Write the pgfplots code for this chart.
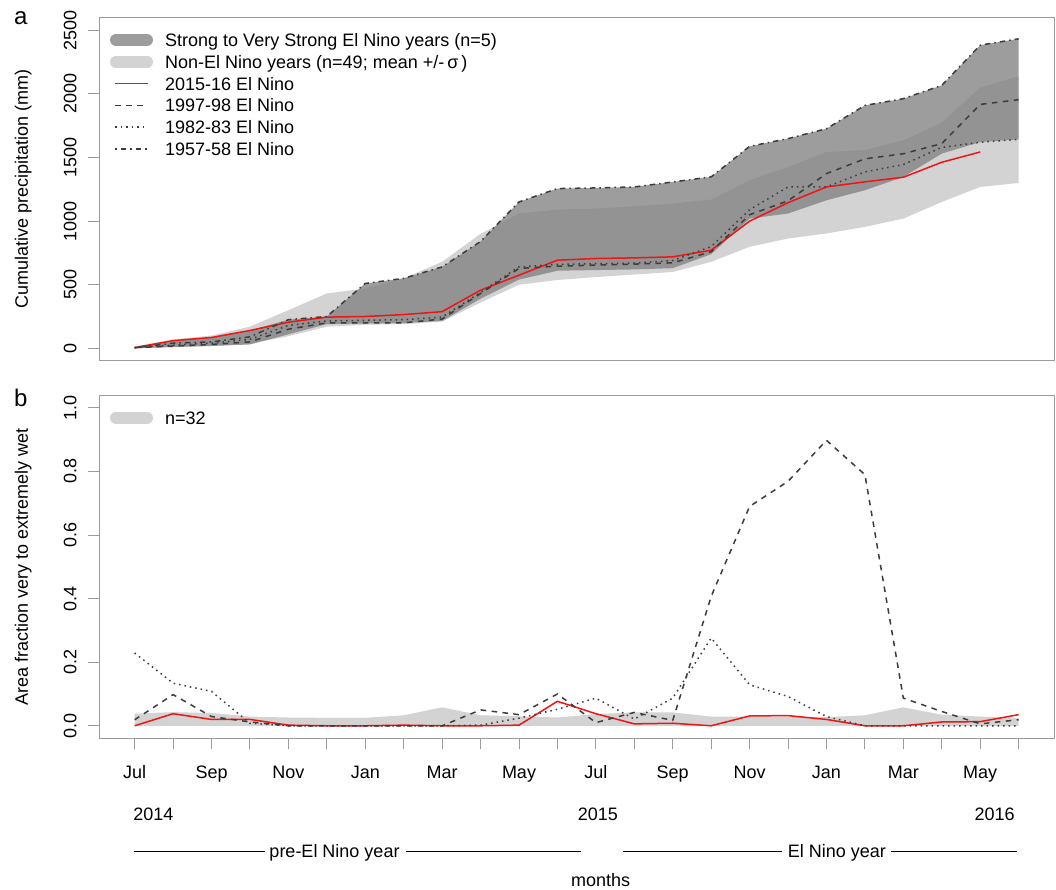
\documentclass[border=0pt]{standalone}
\usepackage{fontspec}
\setmainfont{Liberation Sans}
\usepackage{pgfplots}
\usepackage{pgfplotstable}
\pgfplotsset{compat=1.18}
\usepgfplotslibrary{fillbetween}
\definecolor{lightband}{RGB}{211,211,211}
\definecolor{darkband}{RGB}{128,128,128}
\definecolor{legdark}{RGB}{157,157,157}
\definecolor{axgray}{RGB}{155,155,155}
\definecolor{lngray}{RGB}{60,60,60}
\definecolor{myred}{RGB}{240,20,20}
\newcommand{\fs}{\fontsize{18}{21.6}\selectfont}
\tikzset{
 dsh/.style={draw=lngray, line width=1.5pt, dash pattern=on 5.5pt off 5.5pt},
 dtt/.style={draw=lngray, line width=1.5pt, dash pattern=on 1.5pt off 4pt},
 ddt/.style={draw=lngray, line width=1.5pt, dash pattern=on 1.5pt off 4pt on 5.5pt off 4pt},
 redln/.style={draw=myred, line width=1.5pt},
 legtxt/.style={anchor=base west, inner sep=0pt, font=\fs},
}
\pgfplotstableread{
i Llo Lhi Dlo Dhi red dsh dot dd
0 0 13 0 8 5 5 5 5
1 8 70 10 60 60 18 25 40
2 18 100 18 85 85 30 40 50
3 35 170 30 140 140 50 70 90
4 95 300 110 225 205 150 180 225
5 170 431 190 250 245 200 215 250
6 185 470 195 510 250 200 220 510
7 190 550 198 550 265 200 225 550
8 210 680 215 640 288 230 245 640
9 360 900 390 840 457 431 440 840
10 500 1060 540 1151 575 628 640 1151
11 537 1091 610 1256 693 646 660 1256
12 560 1099 615 1261 706 654 665 1261
13 580 1117 620 1269 711 662 670 1269
14 600 1138 630 1308 719 672 690 1308
15 680 1170 740 1348 771 759 800 1348
16 798 1322 1020 1588 1000 1050 1090 1588
17 863 1426 1060 1649 1145 1160 1269 1649
18 903 1544 1164 1727 1269 1374 1269 1727
19 955 1560 1243 1910 1309 1490 1387 1910
20 1020 1636 1348 1963 1345 1530 1445 1963
21 1151 1775 1531 2068 1463 1610 1580 2068
22 1269 2052 1622 2384 1544 1918 1620 2384
23 1300 2139 1643 2434 nan 1955 1643 2434
}\toptab
\pgfplotstableread{
i band red dsh dot
0 0.038 0 0.019 0.229
1 0.043 0.038 0.098 0.134
2 0.040 0.020 0.029 0.108
3 0.029 0.020 0.012 0.008
4 0.026 0.002 0 0
5 0.025 0 0 0
6 0.025 0 0 0
7 0.033 0.002 0 0
8 0.058 0 0 0
9 0.033 0 0.050 0.002
10 0.030 0.002 0.035 0.024
11 0.026 0.077 0.100 0.052
12 0.037 0.038 0.010 0.087
13 0.042 0.006 0.042 0.021
14 0.042 0.008 0.017 0.087
15 0.029 0 0.407 0.276
16 0.029 0.031 0.690 0.129
17 0.029 0.032 0.769 0.092
18 0.027 0.020 0.898 0.029
19 0.033 0 0.790 0
20 0.058 0 0.087 0
21 0.035 0.012 0.045 0
22 0.029 0.013 0.006 0
23 0.024 0.035 0.019 0
}\bottab
\pgfplotsset{
 base/.style={scale only axis, width=954.7pt, height=343.3pt,
  xmin=-0.92, xmax=23.92,
  axis line style={axgray, line width=1pt},
  every tick/.style={axgray, line width=1pt},
  tick align=outside, major tick length=11pt,
  xtick pos=bottom, ytick pos=left,
  tick label style={font=\fs, black},
  /pgf/number format/assume math mode=true,
  yticklabel style={rotate=90, anchor=south, inner sep=0pt},
  yticklabel shift=11.5pt,
  every axis y label/.style={at={(axis description cs:-0.0747,0.5)}, rotate=90, anchor=base, font=\fs, inner sep=0pt},
  clip=false,
 }
}
\begin{document}
\begin{tikzpicture}[x=1pt,y=1pt]
% ---------------- panel a
\begin{axis}[base, at={(99.3pt,529pt)}, anchor=south west,
  ymin=-100, ymax=2600, ytick={0,500,1000,1500,2000,2500}, xtick=\empty,
  /pgf/number format/1000 sep={},
  ylabel={Cumulative precipitation (mm)}]
\addplot[name path=llo, draw=none, forget plot] table[x=i,y=Llo]{\toptab};
\addplot[name path=lhi, draw=none, forget plot] table[x=i,y=Lhi]{\toptab};
\addplot[lightband, draw=none] fill between[of=llo and lhi];
\addplot[name path=dlo, draw=none, forget plot] table[x=i,y=Dlo]{\toptab};
\addplot[name path=dhi, draw=none, forget plot] table[x=i,y=Dhi]{\toptab};
\addplot[darkband, fill opacity=0.77, draw=none] fill between[of=dlo and dhi];
\addplot[redln] table[x=i,y=red]{\toptab};
\addplot[dsh] table[x=i,y=dsh]{\toptab};
\addplot[dtt] table[x=i,y=dot]{\toptab};
\addplot[ddt] table[x=i,y=dd]{\toptab};
% legend
\draw[line width=12pt, line cap=round, draw=legdark] (axis description cs:0.017492,0.93504) -- (axis description cs:0.049963,0.93504);
\draw[line width=12pt, line cap=round, draw=lightband] (axis description cs:0.017492,0.87154) -- (axis description cs:0.049963,0.87154);
\addplot[redln, forget plot] coordinates {(-0.5115,2081.7) (0.3471,2081.7)};
\addplot[dsh, forget plot] coordinates {(-0.5115,1910.3) (0.3471,1910.3)};
\addplot[dtt, forget plot] coordinates {(-0.5115,1738.8) (0.3471,1738.8)};
\addplot[ddt, forget plot] coordinates {(-0.5115,1567.4) (0.3471,1567.4)};
\node[legtxt] at (axis description cs:0.068817,0.91611) {Strong to Very Strong El Nino years (n=5)};
\node[legtxt] at (axis description cs:0.068817,0.85261) {Non-El Nino years (n=49; mean +/-\,σ\,)};
\node[legtxt] at (axis description cs:0.068817,0.78911) {2015-16 El Nino};
\node[legtxt] at (axis description cs:0.068817,0.72561) {1997-98 El Nino};
\node[legtxt] at (axis description cs:0.068817,0.66210) {1982-83 El Nino};
\node[legtxt] at (axis description cs:0.068817,0.59860) {1957-58 El Nino};
\end{axis}
% ---------------- panel b
\begin{axis}[base, at={(99.3pt,151.5pt)}, anchor=south west,
  ymin=-0.04, ymax=1.04, ytick={0,0.2,0.4,0.6,0.8,1},
  yticklabel style={/pgf/number format/.cd, fixed, fixed zerofill, precision=1},
  xtick={0,...,23},
  xticklabels={Jul,,Sep,,Nov,,Jan,,Mar,,May,,Jul,,Sep,,Nov,,Jan,,Mar,,May,},
  xticklabel style={anchor=base, inner sep=0pt},
  xticklabel shift=28.7pt,
  ylabel={Area fraction very to extremely wet},
  xlabel={months},
  every axis x label/.style={at={(axis description cs:0.5252,-0.4323)}, anchor=base, font=\fs, inner sep=0pt}]
\addplot[fill=lightband, draw=none] table[x=i,y=band]{\bottab} \closedcycle;
\addplot[redln] table[x=i,y=red]{\bottab};
\addplot[dsh] table[x=i,y=dsh]{\bottab};
\addplot[dtt] table[x=i,y=dot]{\bottab};
% legend
\draw[line width=12pt, line cap=round, draw=lightband] (axis description cs:0.017492,0.93387) -- (axis description cs:0.049963,0.93387);
\node[legtxt] at (axis description cs:0.068817,0.91435) {n=32};
% period annotations
\node[legtxt, anchor=base west] at (axis cs:-0.04,-0.2986) {2014};
\node[legtxt, anchor=base] at (axis cs:12.05,-0.2986) {2015};
\node[legtxt, anchor=base east] at (axis cs:22.90,-0.2986) {2016};
\node[legtxt, anchor=base] at (axis cs:5.20,-0.4144) {pre-El Nino year};
\node[legtxt, anchor=base] at (axis cs:18.27,-0.4144) {El Nino year};
\draw[line width=1.3pt] (axis cs:-0.03,-0.3961) -- (axis cs:3.40,-0.3961);
\draw[line width=1.3pt] (axis cs:7.06,-0.3961) -- (axis cs:11.60,-0.3961);
\draw[line width=1.3pt] (axis cs:12.71,-0.3961) -- (axis cs:16.85,-0.3961);
\draw[line width=1.3pt] (axis cs:19.68,-0.3961) -- (axis cs:22.96,-0.3961);
\end{axis}
% panel letters
\node[anchor=base west, inner sep=0pt, font=\fontsize{24}{28}\selectfont] at (14,865) {a};
\node[anchor=base west, inner sep=0pt, font=\fontsize{24}{28}\selectfont] at (14,483.3) {b};
\pgfresetboundingbox
\useasboundingbox (0,0) rectangle (1056,890);
\end{tikzpicture}
\end{document}
